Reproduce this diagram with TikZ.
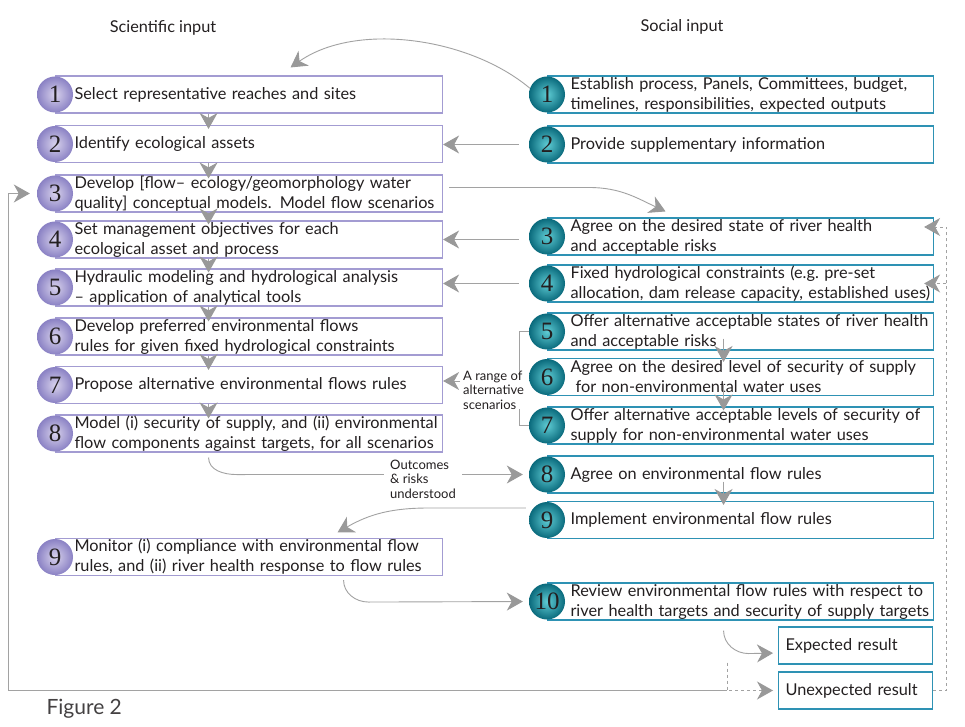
\documentclass[tikz,border=0pt]{standalone}
\usepackage{fontspec}
\setmainfont{Lato}
\newfontfamily\numfont{Liberation Serif}
\usetikzlibrary{arrows.meta}
\definecolor{lilac}{HTML}{A39CD2}
\definecolor{lilacin}{HTML}{D8D2EC}
\definecolor{lilacout}{HTML}{8A81C4}
\definecolor{socteal}{HTML}{2E92B4}
\definecolor{tealin}{HTML}{5FCCD4}
\definecolor{tealout}{HTML}{0A6A7C}
\definecolor{arrowgray}{HTML}{A2A2A2}
\definecolor{headgray}{HTML}{999999}
\definecolor{ink}{HTML}{231F20}
\newcommand{\boxfont}{\fontsize{16.3pt}{20pt}\selectfont}
\newcommand{\notefont}{\fontsize{13pt}{14.5pt}\selectfont}
\newcommand{\ballfont}{\numfont\fontsize{25pt}{25pt}\selectfont}
\tikzset{
  stepbox/.style={anchor=west, minimum height=37pt, inner xsep=0pt, inner ysep=0pt,
    align=left, line width=1.1pt},
  scibox/.style={stepbox, draw=lilac, text width=387pt,
    execute at begin node={\leftskip=19pt\rightskip=0pt plus 1fil minus 40pt}},
  socbox/.style={stepbox, draw=socteal, text width=386pt,
    execute at begin node={\leftskip=23pt\rightskip=0pt plus 1fil minus 40pt}},
  resbox/.style={stepbox, draw=socteal, text width=154pt,
    execute at begin node={\leftskip=7pt}},
  sciball/.style={circle, minimum size=36pt, inner sep=0pt, inner color=lilacin,
    outer color=lilacout, font=\ballfont},
  socball/.style={circle, minimum size=36pt, inner sep=0pt, inner color=tealin,
    outer color=tealout, font=\ballfont},
  gline/.style={draw=arrowgray, line width=0.9pt},
  garr/.style={gline, -{Stealth[length=16pt,width=18pt,inset=5pt,color=headgray,fill=headgray]}},
  note/.style={font=\notefont, align=left, inner sep=0pt},
}
\begin{document}
\begin{tikzpicture}[x=1pt,y=1pt,font=\boxfont,text=ink]
\useasboundingbox[fill=white] (0,0) rectangle (965,726);

\node (scihead) at (163,698) {Scientific input};
\node (sochead) at (682,699) {Social input};
\node[anchor=west, font=\fontsize{21pt}{24pt}\selectfont, text=ink!85] (fig) at (43,17) {Figure 2};

\node[scibox] (l1) at (55,631.5) {Select representative reaches and sites};
\node[scibox] (l2) at (55,582) {Identify ecological assets};
\node[scibox] (l3) at (55,532.5) {Develop [flow-- ecology/geomorphology water\\quality] conceptual models. Model flow scenarios};
\node[scibox] (l4) at (55,486.5) {Set management objectives for each\\ecological asset and process};
\node[scibox] (l5) at (55,438.5) {Hydraulic modeling and hydrological analysis\\-- application of analytical tools};
\node[scibox] (l6) at (55,389.5) {Develop preferred environmental flows\\rules for given fixed hydrological constraints};
\node[scibox] (l7) at (55,341) {Propose alternative environmental flows rules};
\node[scibox] (l8) at (55,292.5) {Model (i) security of supply, and (ii) environmental\\flow components against targets, for all scenarios};
\node[scibox] (l9) at (55,169) {Monitor (i) compliance with environmental flow\\rules, and (ii) river health response to flow rules};

\node[socbox] (r1) at (547,631.5) {Establish process, Panels, Committees, budget,\\timelines, responsibilities, expected outputs};
\node[socbox] (r2) at (547,581.5) {Provide supplementary information};
\node[socbox] (r3) at (547,489.5) {Agree on the desired state of river health\\and acceptable risks};
\node[socbox] (r4) at (547,442.5) {Fixed hydrological constraints (e.g.\ pre-set\\allocation, dam release capacity, established uses)};
\node[socbox] (r5) at (547,394.5) {Offer alternative acceptable states of river health\\and acceptable risks};
\node[socbox] (r6) at (547,349) {Agree on the desired level of security of supply\\\hspace*{5pt}for non-environmental water uses};
\node[socbox] (r7) at (547,300.5) {Offer alternative acceptable levels of security of\\supply for non-environmental water uses};
\node[socbox] (r8) at (547,251.5) {Agree on environmental flow rules};
\node[socbox] (r9) at (547,206) {Implement environmental flow rules};
\node[socbox] (r10) at (547,124.5) {Review environmental flow rules with respect to\\river health targets and security of supply targets};
\node[resbox] (exp) at (778,80.5) {Expected result};
\node[resbox] (unexp) at (778,35.5) {Unexpected result};

\draw[garr] ([xshift=-40.5pt]l1.south) -- ([xshift=-40.5pt,yshift=-4pt]l2.north);
\draw[garr] ([xshift=-40.5pt]l2.south) -- ([xshift=-40.5pt,yshift=-4pt]l3.north);
\draw[garr] ([xshift=-40.5pt]l3.south) -- ([xshift=-40.5pt,yshift=-4pt]l4.north);
\draw[garr] ([xshift=-40.5pt]l4.south) -- ([xshift=-40.5pt,yshift=-4pt]l5.north);
\draw[garr] ([xshift=-40.5pt]l5.south) -- ([xshift=-40.5pt,yshift=-4pt]l6.north);
\draw[garr] ([xshift=-40.5pt]l6.south) -- ([xshift=-40.5pt,yshift=-4pt]l7.north);
\draw[garr] ([xshift=-40.5pt]l7.south) -- ([xshift=-40.5pt,yshift=-4pt]l8.north);

\draw[garr] ([xshift=-17pt,yshift=12pt]r5.south) -- ([xshift=-17pt,yshift=-4pt]r6.north);
\draw[garr] ([xshift=-17pt,yshift=12pt]r6.south) -- ([xshift=-17pt,yshift=-4pt]r7.north);
\draw[garr] ([xshift=-17pt,yshift=12pt]r8.south) -- ([xshift=-17pt,yshift=-4pt]r9.north);

\node[sciball] (lc1) at (l1.west) {1};
\node[sciball] (lc2) at (l2.west) {2};
\node[sciball] (lc3) at (l3.west) {3};
\node[sciball] (lc4) at (l4.west) {4};
\node[sciball] (lc5) at (l5.west) {5};
\node[sciball] (lc6) at (l6.west) {6};
\node[sciball] (lc7) at (l7.west) {7};
\node[sciball] (lc8) at (l8.west) {8};
\node[sciball] (lc9) at (l9.west) {9};

\node[socball] (rc1) at (r1.west) {1};
\node[socball] (rc2) at (r2.west) {2};
\node[socball] (rc3) at (r3.west) {3};
\node[socball] (rc4) at (r4.west) {4};
\node[socball] (rc5) at (r5.west) {5};
\node[socball] (rc6) at (r6.west) {6};
\node[socball] (rc7) at (r7.west) {7};
\node[socball] (rc8) at (r8.west) {8};
\node[socball] (rc9) at (r9.west) {9};
\node[socball] (rc10) at (r10.west) {10};

\draw[garr] (rc1.160) to[out=140,in=35,looseness=0.85] ([xshift=41.5pt,yshift=8pt]l1.north);
\draw[garr, shorten <=10pt] (rc2.west) -- (rc2.west -| l2.east);
\draw[garr] ([xshift=6pt,yshift=6pt]l3.east) -- ++(140,0) to[out=0,in=155] ([xshift=-75pt,yshift=6pt]r3.north);
\draw[garr, shorten <=10pt] (l4.east -| rc3.west) -- (l4.east);
\draw[garr, shorten <=10pt] (rc4.west) -- (rc4.west -| l5.east);

\draw[gline] (rc5.west) -- ++(-9,0) |- (rc7.west);
\node[note, fill=white, anchor=west] (scen) at (463,336) {A range of\\alternative\\scenarios};
\coordinate (scenarr) at ([yshift=9pt]scen.west);
\draw[garr, shorten <=3pt] (scenarr) -- (scenarr -| l7.east);

\draw[garr, shorten >=6pt] ([xshift=-40.5pt,yshift=-5pt]l8.south) to[out=-90,in=180] ++(28,-17) -- (rc8.west);
\node[note, fill=white, anchor=west, inner xsep=6pt] (outc) at (384,247) {Outcomes\\\& risks\\understood};

\draw[garr, shorten <=3pt] ([yshift=12pt]rc9.west) -- ++(-100,0) to[out=180,in=30] ([xshift=88.5pt,yshift=5.5pt]l9.north);
\draw[garr, shorten >=6pt] ([xshift=94.5pt,yshift=-4pt]l9.south) to[out=-90,in=180] ++(25,-22) -- (rc10.west);
\draw[garr, shorten >=5pt] ([xshift=-17pt,yshift=-10pt]r10.south) to[out=-90,in=180] ++(25,-23) -- ([yshift=-7.5pt]exp.west);

\coordinate (split) at ([xshift=-51pt]unexp.west);
\coordinate (back) at ([xshift=13pt]unexp.east);
\draw[garr, dashed, shorten >=5pt] ([yshift=28pt]split) -- (split) -- (unexp.west);
\draw[garr, shorten >=7pt] (split) -- ++(-719,0) |- (lc3.west);
\draw[garr, dashed] (unexp.east) -- (back) |- ([xshift=-10pt,yshift=9.5pt]r3.east);
\draw[garr, dashed] (back |- r4.east) -- ([xshift=-10pt]r4.east);
\end{tikzpicture}
\end{document}
